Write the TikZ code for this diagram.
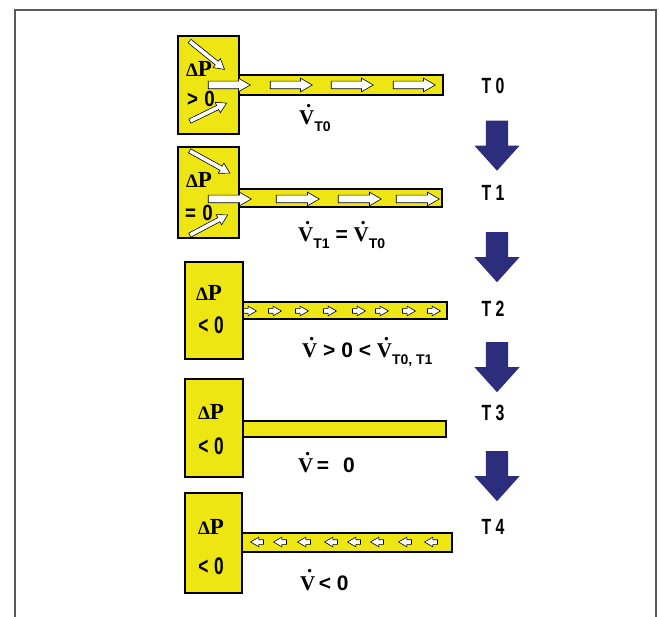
\documentclass[tikz,border=0pt]{standalone}
\usepackage{fontspec}
\setmainfont{Liberation Sans}
\newfontfamily\serifbf{Liberation Serif}
\usetikzlibrary{shapes.arrows,calc}
\definecolor{tankyellow}{RGB}{238,230,18}
\definecolor{stepblue}{RGB}{44,46,125}
\definecolor{framegray}{RGB}{90,90,90}
\newcommand{\narrow}[1]{\scalebox{0.72}[1]{#1}}
\newcommand{\Vdot}{{\serifbf\bfseries\makebox[0pt][l]{\hspace{0.33em}\raisebox{0.85em}{.}}V}}
\newcommand{\Tsub}[1]{\raisebox{-0.3em}{\fontsize{14}{14}\selectfont\textbf{#1}}}
\newcommand{\dP}{{\serifbf\bfseries{\fontsize{19}{19}\selectfont Δ}{\fontsize{23}{23}\selectfont P}}}

\tikzset{
  tank/.style={draw=black, line width=1.4pt, fill=tankyellow},
  flow/.style={single arrow, draw=black, line width=0.6pt, fill=white, inner sep=0pt, single arrow tip angle=60},
  bigflow/.style={flow, inner ysep=3.5pt, single arrow head extend=3pt, minimum height=42pt},
  smallflow/.style={flow, inner ysep=2pt, single arrow head extend=2.5pt, minimum height=13pt},
  inflow/.style={flow, inner ysep=2pt, single arrow head extend=3.5pt, minimum height=#1},
  timearrow/.style={single arrow, fill=stepblue, inner sep=0pt, inner ysep=11pt, single arrow head extend=11.5pt, single arrow tip angle=84, minimum height=50pt, rotate=-90, yshift=4pt},
  tlabel/.style={font=\fontsize{22}{22}\selectfont\bfseries},
  plabel/.style={font=\fontsize{22}{22}\selectfont\bfseries, inner sep=0pt},
  qlabel/.style={font=\fontsize{24}{24}\selectfont\bfseries, inner sep=0pt},
  vlabel/.style={font=\fontsize{21}{21}\selectfont\bfseries, inner sep=0pt, anchor=base west}
}

\begin{document}
\begin{tikzpicture}[x=1pt,y=-1pt]
  \useasboundingbox (0,0) rectangle (659,617);
  \draw[framegray, line width=2pt] (15,617) -- (15,10) -- (656,10) -- (656,617);

  % T0
  \draw[tank] (239,75) rectangle (443,95);
  \draw[tank] (178,36) rectangle (239,134);
  \node[plabel] (dp0) at (199,69) {\dP};
  \node[plabel] (pv0) at (201,99) {\scalebox{0.85}[1]{>\,\,0}};
  \foreach \s in {205,267,328,390}
    \node[bigflow] at ({\s+21},85) {};
  \node[inflow=45pt, rotate=-39] at (205.5,54) {};
  \node[inflow=41pt, rotate=26] at (206.5,113) {};
  \node[vlabel] (v0) at (299,125) {\Vdot\Tsub{T0}};

  % T1
  \draw[tank] (239,189) rectangle (442,207);
  \draw[tank] (178,147) rectangle (239,238);
  \node[plabel] (dp1) at (199,180) {\dP};
  \node[plabel] (pv1) at (199,213) {\scalebox{0.85}[1]{=\,\,0}};
  \foreach \s in {205,273,335,393}
    \node[bigflow, minimum height=43pt] at ({\s+21.5},199) {};
  \node[inflow=46pt, rotate=-29] at (208,161) {};
  \node[inflow=43pt, rotate=28] at (207,226) {};
  \node[vlabel] (v1) at (298,242) {\Vdot\Tsub{T1} = \Vdot\Tsub{T0}};

  % T2
  \draw[tank] (243,302) rectangle (447,319);
  \draw[tank] (185,262) rectangle (243,359);
  \node[plabel] (dp2) at (209,293) {\dP};
  \node[qlabel] (pv2) at (211,325) {\narrow{<\,\,0}};
  \foreach \s in {248,273,300,328,357,380,407,432}
    \node[smallflow] at (\s,311) {};
  \node[vlabel] (v2) at (302,358) {\Vdot{} > 0 < \Vdot\Tsub{T0, T1}};

  % T3
  \draw[tank] (243,421) rectangle (446,437);
  \draw[tank] (185,379) rectangle (243,477);
  \node[plabel] (dp3) at (211,412) {\dP};
  \node[qlabel] (pv3) at (211,446) {\narrow{<\,\,0}};
  \node[vlabel] (v3) at (298,473) {\Vdot\,=\hspace{14pt}0};

  % T4
  \draw[tank] (242,533) rectangle (452,552);
  \draw[tank] (185,493) rectangle (242,593);
  \node[plabel] (dp4) at (211,527) {\dP};
  \node[qlabel] (pv4) at (211,566) {\narrow{<\,\,0}};
  \foreach \s in {259,282,306,333,356,379,407,433}
    \node[smallflow, rotate=180] at (\s,542) {};
  \node[vlabel] (v4) at (300,590) {\Vdot\,< 0};

  % time steps
  \node[tlabel] (t0) at (493,86) {\narrow{T 0}};
  \node[tlabel] (t1) at (493,193) {\narrow{T 1}};
  \node[tlabel] (t2) at (493,309) {\narrow{T 2}};
  \node[tlabel] (t3) at (493,413) {\narrow{T 3}};
  \node[tlabel] (t4) at (493,527) {\narrow{T 4}};
  \foreach \a/\b in {t0/t1,t1/t2,t2/t3,t3/t4}
    \node[timearrow] at ($(\a)!0.5!(\b)$) {};
\end{tikzpicture}
\end{document}
